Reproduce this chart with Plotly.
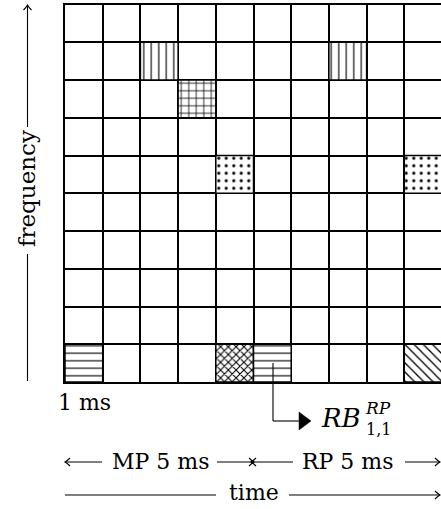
import plotly.graph_objects as go

# ---- data ----
n_cols = 10
n_rows = 10
cell_cols = [2, 7, 3, 4, 9, 0, 4, 5, 9]
cell_rows = [8, 8, 7, 5, 5, 0, 0, 0, 0]
cell_patterns = ["|", "|", "+", ".", ".", "-", "x", "-", "\\"]
freq_label = "frequency"
unit_label = "1 ms"
mp_label = "MP 5 ms"
rp_label = "RP 5 ms"
time_label = "time"

W, H = 441, 509
FONT = "DejaVu Serif"


def px(x):
    return x / W


def py(y):
    return 1 - y / H


pat_sizes = {"|": 7.5, "+": 7.5, ".": 7.5, "-": 7.5, "x": 5.5, "\\": 6.5}
pat_solid = {"|": 0.15, "+": 0.2, ".": 0.14, "-": 0.15, "x": 0.35, "\\": 0.2}

fig = go.Figure()
fig.add_trace(go.Bar(
    x=[c + 0.5 for c in cell_cols],
    y=[1] * len(cell_cols),
    base=cell_rows,
    width=1,
    marker=dict(
        color="white",
        line=dict(color="black", width=1.5),
        pattern=dict(
            shape=cell_patterns,
            size=[pat_sizes[p] for p in cell_patterns],
            solidity=[pat_solid[p] for p in cell_patterns],
            fgcolor="black",
            bgcolor="white",
            fillmode="replace",
        ),
    ),
    hoverinfo="skip",
    showlegend=False,
))

cell_px = 37.7
x0, x1 = 65, 441
y0, y1 = 4.5, 382

axis_common = dict(
    dtick=1, tick0=0, showgrid=True, gridcolor="black", gridwidth=1.5,
    showticklabels=False, ticks="", zeroline=False,
    showline=True, linecolor="black", linewidth=1.5, fixedrange=True,
)

fig.update_layout(
    width=W, height=H,
    margin=dict(l=0, r=0, t=0, b=0),
    paper_bgcolor="white", plot_bgcolor="white",
    xaxis=dict(domain=[px(x0), 1], range=[0, (x1 - x0) / cell_px], mirror=True, **axis_common),
    yaxis=dict(domain=[py(y1), py(y0)], range=[0, n_rows], mirror=False, **axis_common),
    barmode="overlay",
    showlegend=False,
)

shapes = []
LW = 1.1


def line(xa, ya, xb, yb, w=LW):
    shapes.append(dict(type="line", xref="paper", yref="paper",
                       x0=px(xa), y0=py(ya), x1=px(xb), y1=py(yb),
                       line=dict(color="black", width=w)))


def head(x, y, d):
    # LaTeX style hooked arrowhead; d in {'r','l','u'}
    if d == "r":
        pts = [(x - 5, y - 4), (x - 2, y - 1), (x, y), (x - 2, y + 1), (x - 5, y + 4)]
    elif d == "l":
        pts = [(x + 5, y - 4), (x + 2, y - 1), (x, y), (x + 2, y + 1), (x + 5, y + 4)]
    else:  # up
        pts = [(x - 4, y + 5), (x - 1, y + 2), (x, y), (x + 1, y + 2), (x + 4, y + 5)]
    p = [(px(a), py(b)) for a, b in pts]
    path = (f"M{p[0][0]},{p[0][1]} Q{p[1][0]},{p[1][1]} {p[2][0]},{p[2][1]} "
            f"Q{p[3][0]},{p[3][1]} {p[4][0]},{p[4][1]}")
    shapes.append(dict(type="path", xref="paper", yref="paper", path=path,
                       line=dict(color="black", width=LW)))


# frequency arrow
fx = 27.5
line(fx, 5, fx, 127)
line(fx, 254, fx, 381)
head(fx, 5, "u")

# connector to RB label
cx = 273
line(cx, 363, cx, 421)
line(cx, 421, 300, 421)
tri = [(299, 412), (311, 421), (299, 430)]
tp = [(px(a), py(b)) for a, b in tri]
shapes.append(dict(type="path", xref="paper", yref="paper",
                   path=f"M{tp[0][0]},{tp[0][1]} L{tp[1][0]},{tp[1][1]} L{tp[2][0]},{tp[2][1]} Z",
                   fillcolor="black", line=dict(color="black", width=0.5)))

# MP / RP row
ry = 462
line(65, ry, 102, ry)
head(65, ry, "l")
line(217, ry, 254, ry)
head(254, ry, "r")
line(251, ry, 293, ry)
head(251, ry, "l")
line(405, ry, 440, ry)
head(440, ry, "r")

# time row
ty = 495
line(65, ty, 216, ty)
line(289, ty, 440, ty)
head(440, ty, "r")

fig.update_layout(shapes=shapes)

ann = []


def text(t, x, y, size, xanchor="center", angle=0, family=FONT):
    ann.append(dict(text=t, x=px(x), y=py(y), xref="paper", yref="paper",
                    xanchor=xanchor, yanchor="middle", showarrow=False,
                    textangle=angle, font=dict(family=family, size=size, color="black")))


text(freq_label, 27, 189, 23, angle=-90)
text(unit_label, 56, 402, 22, xanchor="left")
text(mp_label, 160, ry - 1, 22)
text(rp_label, 348, ry - 1, 22)
text(time_label, 254, ty - 3, 22)
text("<i>RB</i>", 319, 418, 26, xanchor="left")
text("<i>RP</i>", 363, 408, 17, xanchor="left")
text("1,1", 364, 429, 16, xanchor="left")

fig.update_layout(annotations=ann)

fig.write_html(
    "out.html",
    config={"displayModeBar": False},
    post_script="document.body.style.margin='0';document.body.style.overflow='hidden';",
)
